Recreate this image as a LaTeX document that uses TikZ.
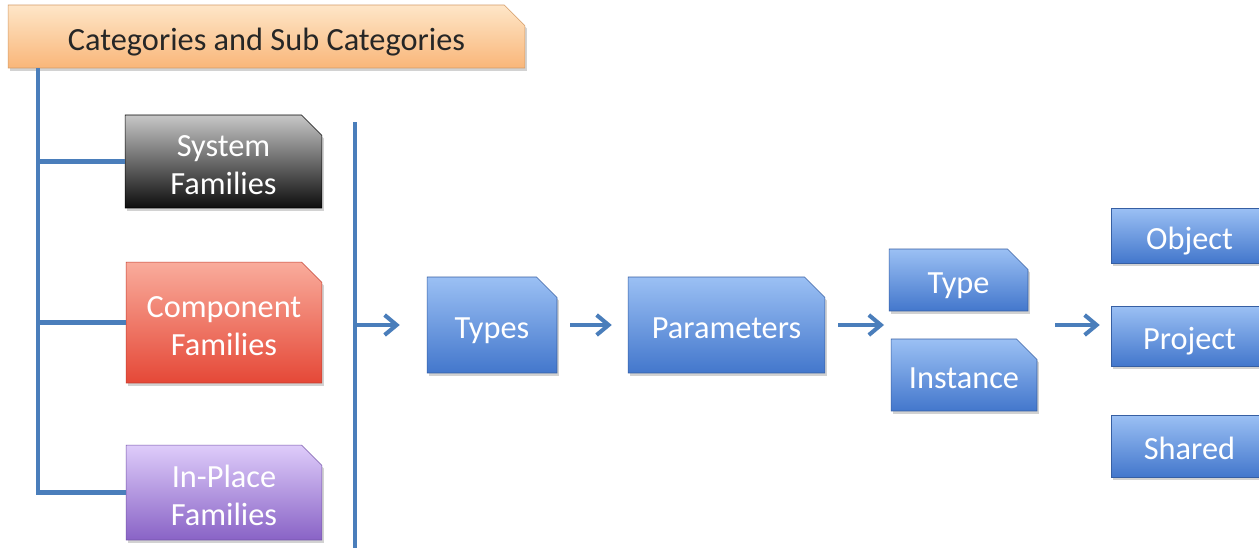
\documentclass[tikz,border=0pt]{standalone}
\usepackage{fontspec}
\setmainfont{Carlito}
\usepackage{xcolor}
\usepackage{tikz}
\usetikzlibrary{shapes.misc,arrows.meta,shadows}

\definecolor{linkblue}{HTML}{4A7EBB}
\definecolor{bluetop}{HTML}{9BC0F4}
\definecolor{bluebot}{HTML}{4377CC}
\definecolor{orgtop}{HTML}{FEE6C8}
\definecolor{orgbot}{HTML}{F9B679}
\definecolor{redtop}{HTML}{F9AC9C}
\definecolor{redbot}{HTML}{E54837}
\definecolor{purtop}{HTML}{DECCFA}
\definecolor{purbot}{HTML}{8963C6}

% text sits a little low in every box
\newcommand{\cardtxt}[1]{\raisebox{-0.12cm}[\height][\depth]{\begin{tabular}{@{}c@{}}#1\end{tabular}}}

\tikzset{
  card/.style={chamfered rectangle,chamfered rectangle corners=north east,
    chamfered rectangle angle=45,chamfered rectangle xsep=0.3cm,
    inner sep=0pt,align=center,text=white,
    font=\fontsize{18.4}{21.6}\selectfont,
    drop shadow={opacity=0.35,shadow xshift=0.04cm,shadow yshift=-0.06cm}},
  bluecard/.style={card,top color=bluetop,bottom color=bluebot,draw=bluebot!80!black,line width=0.3pt},
  link/.style={draw=linkblue,line width=2.3pt},
  arr/.style={link,-{Straight Barb[length=0.24cm,width=0.4cm,line width=2.3pt]}}
}

\begin{document}
\begin{tikzpicture}[x=0.02cm,y=-0.02cm]
\clip(0,0)rectangle(1259,548);
\fill[white](0,0)rectangle(1259,548);
% categories
\node[card,minimum width=10.34cm,minimum height=1.26cm,text=black!85,
  top color=orgtop,bottom color=orgbot,draw=orgbot!85!black,line width=0.3pt]
  (head) at (266.5,36.5) {\cardtxt{Categories and Sub Categories}};
\node[card,minimum width=3.94cm,minimum height=1.86cm,
  top color=black!22,bottom color=black!95,draw=black,line width=0.3pt]
  (sys) at (223.5,161.5) {\cardtxt{System\\Families}};
\node[card,minimum width=3.92cm,minimum height=2.42cm,
  top color=redtop,bottom color=redbot,draw=redbot!85!black,line width=0.3pt]
  (comp) at (224,322.5) {\cardtxt{Component\\Families}};
\node[card,minimum width=3.92cm,minimum height=1.9cm,
  top color=purtop,bottom color=purbot,draw=purbot!85!black,line width=0.3pt]
  (ipf) at (224,492.5) {\cardtxt{In-Place\\Families}};
\coordinate (trunk) at (38,68);
\draw[link](trunk |- head.south)|-(ipf.west);
\draw[link](trunk |- sys.west)--(sys.west);
\draw[link](trunk |- comp.west)--(comp.west);
% chain
\coordinate (bartop) at (355,122);
\coordinate (barbot) at (355,548);
\draw[link](bartop)--(barbot);
\node[bluecard,minimum width=2.6cm,minimum height=1.92cm] (types) at (492,325) {\cardtxt{Types}};
\node[bluecard,minimum width=3.94cm,minimum height=1.92cm] (params) at (726.5,325) {\cardtxt{Parameters}};
\node[bluecard,minimum width=2.78cm,minimum height=1.24cm] (type) at (958.5,280) {\cardtxt{Type}};
\node[bluecard,minimum width=2.92cm,minimum height=1.44cm] (inst) at (964,375) {\cardtxt{Instance}};
\node[bluecard,rectangle,minimum width=3.14cm,minimum height=1.1cm] (obj) at (1189.5,235.5) {\cardtxt{Object}};
\node[bluecard,rectangle,minimum width=3.14cm,minimum height=1.2cm] (proj) at (1189.5,336) {\cardtxt{Project}};
\node[bluecard,rectangle,minimum width=3.14cm,minimum height=1.24cm] (shared) at (1189.5,446) {\cardtxt{Shared}};
\coordinate (ti) at (884,325);
\coordinate (tiout) at (1055,325);
\draw[arr,shorten >=0.54cm](bartop |- types.west)--(types.west);
\draw[arr,shorten <=0.26cm,shorten >=0.32cm](types.east)--(params.west);
\draw[arr,shorten <=0.26cm](params.east)--(ti);
\draw[arr,shorten >=0.22cm](tiout)--(tiout -| proj.west);
\end{tikzpicture}
\end{document}
